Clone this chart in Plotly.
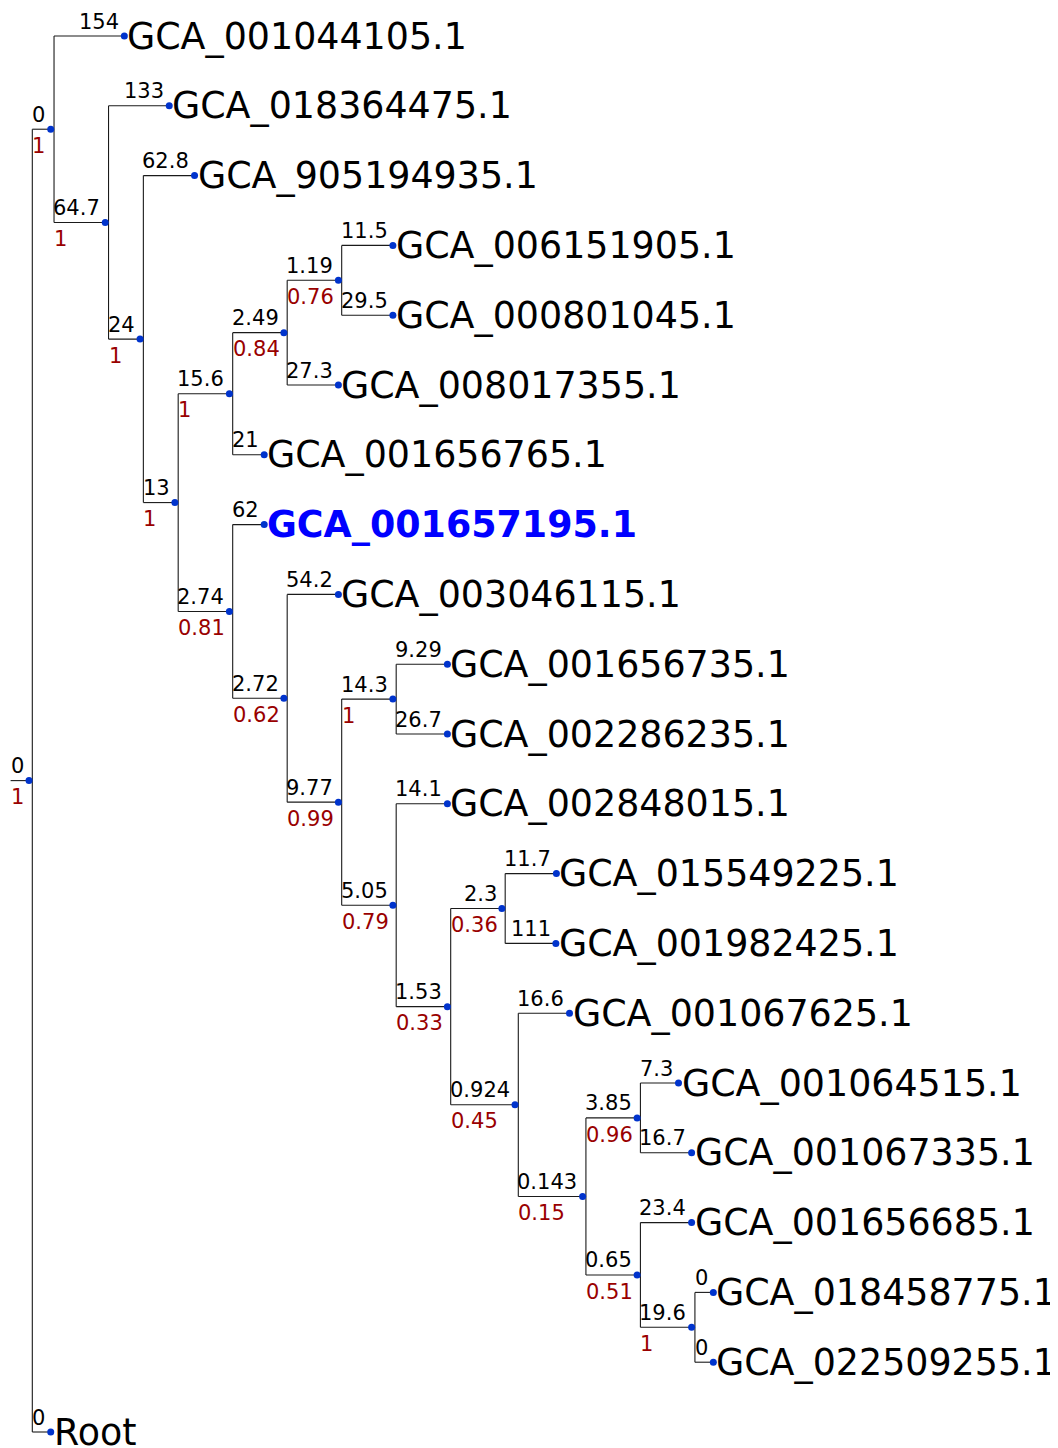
import plotly.graph_objects as go

# ---------------- data (tree in preorder) ----------------
parent = [-1, 0, 1, 1, 3, 3, 5, 5, 7, 8, 9, 10, 10, 9, 8, 7, 15, 15, 17, 17,
          19, 20, 20, 19, 23, 23, 25, 26, 26, 25, 29, 29, 31, 32, 32, 31, 35, 35,
          37, 37, 0]
dist_labels = ["0", "0", "154", "64.7", "133", "24", "62.8", "13", "15.6", "2.49",
               "1.19", "11.5", "29.5", "27.3", "21", "2.74", "62", "2.72", "54.2", "9.77",
               "14.3", "9.29", "26.7", "5.05", "14.1", "1.53", "2.3", "11.7", "111", "0.924",
               "16.6", "0.143", "3.85", "7.3", "16.7", "0.65", "23.4", "19.6", "0", "0", "0"]
support_labels = ["1", "1", "", "1", "", "1", "", "1", "1", "0.84",
                  "0.76", "", "", "", "", "0.81", "", "0.62", "", "0.99",
                  "1", "", "", "0.79", "", "0.33", "0.36", "", "", "0.45",
                  "", "0.15", "0.96", "", "", "0.51", "", "1", "", "", ""]
leaf_names = ["", "", "GCA_001044105.1", "", "GCA_018364475.1", "", "GCA_905194935.1", "", "", "",
              "", "GCA_006151905.1", "GCA_000801045.1", "GCA_008017355.1", "GCA_001656765.1", "",
              "GCA_001657195.1", "", "GCA_003046115.1", "",
              "", "GCA_001656735.1", "GCA_002286235.1", "", "GCA_002848015.1", "", "",
              "GCA_015549225.1", "GCA_001982425.1", "",
              "GCA_001067625.1", "", "", "GCA_001064515.1", "GCA_001067335.1", "",
              "GCA_001656685.1", "", "GCA_018458775.1", "GCA_022509255.1", "Root"]
highlight = "GCA_001657195.1"

# ---------------- layout helpers (style) ----------------
W, H = 1058, 1448
BODY = 8            # browser default body margin
CHAR_EM = {".": 0.318}
EM_PX = 20.62       # px per em of branch label text
PAD = 5.3           # padding after branch label
NODE_W = 3.3        # node face width
SCALE = 0.4565      # px per unit of branch length
X0 = 10.6
Y0, DY = 36.0, 69.8

def text_w(s):
    return sum(CHAR_EM.get(c, 0.636) for c in s) * EM_PX

n = len(parent)
children = [[] for _ in range(n)]
for i, p in enumerate(parent):
    if p >= 0:
        children[p].append(i)

def blen(i):
    w = max(text_w(dist_labels[i]), text_w(support_labels[i])) + PAD
    return max(w, SCALE * float(dist_labels[i]))

xs = [0.0] * n
start = [0.0] * n
for i in range(n):
    s = X0 if parent[i] < 0 else xs[parent[i]] + NODE_W
    start[i] = s
    xs[i] = s + blen(i)

ys = [0.0] * n
leaf_count = [0]
def set_y(i):
    if not children[i]:
        ys[i] = Y0 + leaf_count[0] * DY
        leaf_count[0] += 1
    else:
        for c in children[i]:
            set_y(c)
        ys[i] = (ys[children[i][0]] + ys[children[i][-1]]) / 2
set_y(0)

# ---------------- lines ----------------
lx, ly = [], []
for i in range(n):
    lx += [start[i], xs[i], None]
    ly += [ys[i], ys[i], None]
    if children[i]:
        vx = xs[i] + NODE_W
        lx += [vx, vx, None]
        ly += [ys[children[i][0]], ys[children[i][-1]], None]

fig = go.Figure()
fig.add_trace(go.Scatter(x=lx, y=ly, mode="lines",
                         line=dict(color="#1a1a1a", width=1.1),
                         hoverinfo="skip", showlegend=False))
fig.add_trace(go.Scatter(x=xs, y=ys, mode="markers",
                         marker=dict(color="#0033cc", size=7),
                         hoverinfo="skip", showlegend=False))

ann = []
LAB_FONT = dict(family="DejaVu Sans", size=21, color="#000000")
SUP_FONT = dict(family="DejaVu Sans", size=21, color="#990000")
for i in range(n):
    ann.append(dict(x=xs[i] - PAD, y=ys[i] - 14.5, text=dist_labels[i],
                    xanchor="right", yanchor="middle", showarrow=False,
                    font=LAB_FONT, borderpad=0, borderwidth=0))
    if support_labels[i]:
        ann.append(dict(x=start[i], y=ys[i] + 16.6, text=support_labels[i],
                        xanchor="left", yanchor="middle", showarrow=False,
                        font=SUP_FONT, borderpad=0, borderwidth=0))
    if leaf_names[i]:
        hl = leaf_names[i] == highlight
        txt = "<b>%s</b>" % leaf_names[i] if hl else leaf_names[i]
        ann.append(dict(x=xs[i] + 3, y=ys[i], text=txt,
                        xanchor="left", yanchor="middle", showarrow=False,
                        font=dict(family="DejaVu Sans", size=36.4,
                                  color="#0000ff" if hl else "#000000"),
                        borderpad=0, borderwidth=0))

fig.update_layout(
    width=W - BODY, height=H - BODY, margin=dict(l=0, r=0, t=0, b=0),
    paper_bgcolor="white", plot_bgcolor="white",
    xaxis=dict(range=[BODY, W], visible=False, fixedrange=True),
    yaxis=dict(range=[H, BODY], visible=False, fixedrange=True),
    annotations=ann, showlegend=False,
)
fig.write_html("out.html")
